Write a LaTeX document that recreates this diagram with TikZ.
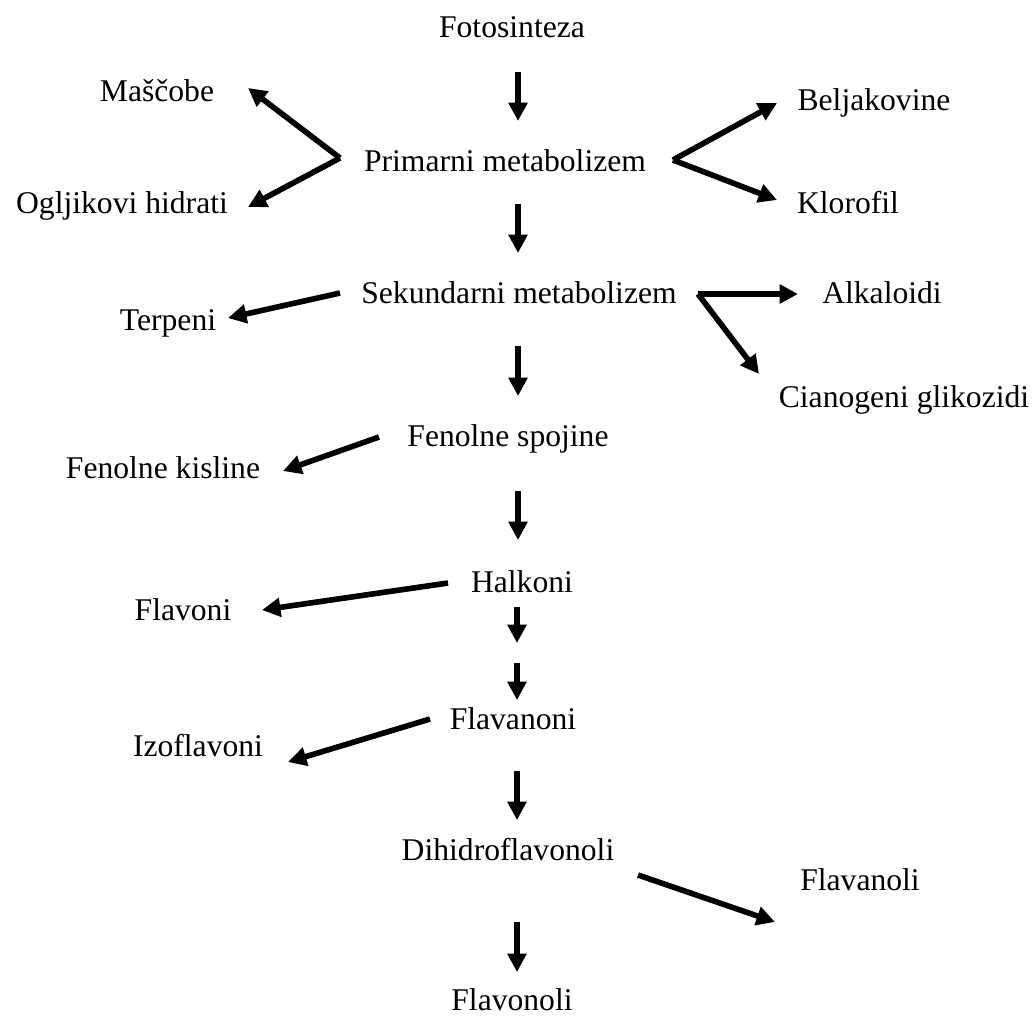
\documentclass[tikz,border=0pt]{standalone}
\usepackage{fontspec}
\setmainfont{Liberation Serif}
\usetikzlibrary{arrows.meta}
\tikzset{
    metnode/.style = {anchor=base, inner sep=0pt, font=\fontsize{18}{21}\selectfont, text=black},
    edgek/.style = {-{Triangle[length=10.5pt,width=10.5pt]}, line width=3.2pt, black},
}

\begin{document}
\begin{tikzpicture}[x=0.02cm,y=-0.02cm]
%
\node[metnode] at (512,37) (fot) {Fotosinteza};
\node[metnode] at (157,101) (masc) {Maščobe};
\node[metnode] at (505,171) (prim) {Primarni metabolizem};
\node[metnode] at (122,213) (oglj) {Ogljikovi hidrati};
\node[metnode] at (874,110) (belj) {Beljakovine};
\node[metnode] at (848,213) (klor) {Klorofil};
\node[metnode] at (519,303) (sek) {Sekundarni metabolizem};
\node[metnode] at (168,330) (terp) {Terpeni};
\node[metnode] at (882,303) (alk) {Alkaloidi};
\node[metnode] at (904,407) (cian) {Cianogeni glikozidi};
\node[metnode] at (508,446) (fen) {Fenolne spojine};
\node[metnode] at (163,478) (fkis) {Fenolne kisline};
\node[metnode] at (522,592) (halk) {Halkoni};
\node[metnode] at (183,620) (flavo) {Flavoni};
\node[metnode] at (513,729) (flavan) {Flavanoni};
\node[metnode] at (198,756) (izo) {Izoflavoni};
\node[metnode] at (508,860) (dih) {Dihidroflavonoli};
\node[metnode] at (860,890) (flavl) {Flavanoli};
\node[metnode] at (512,1010) (flavon) {Flavonoli};
%
\coordinate (vl) at (340,158);
\coordinate (vr) at (673,160);
\coordinate (vs) at (698,294);
\coordinate (halk-m) at (517,653);
%
\draw[edgek] ([yshift=-35*0.02cm]fot.base -| 518,0) -- ([yshift=50*0.02cm]prim.base -| 518,0);
\draw[edgek] ([yshift=-33*0.02cm]prim.base -| 518,0) -- ([yshift=50*0.02cm]sek.base -| 518,0);
\draw[edgek] ([yshift=-43*0.02cm]sek.base -| 518,0) -- ([yshift=50*0.02cm]fen.base -| 518,0);
\draw[edgek] ([yshift=-45*0.02cm]fen.base -| 518,0) -- ([yshift=52*0.02cm]halk.base -| 518,0);
\draw[edgek] ([yshift=-15*0.02cm]halk.base -| 517,0) -- ([yshift=10*0.02cm]halk-m);
\draw[edgek] ([yshift=-10*0.02cm]halk-m) -- ([yshift=29*0.02cm]flavan.base -| 517,0);
\draw[edgek] ([yshift=-42*0.02cm]flavan.base -| 517,0) -- ([yshift=40*0.02cm]dih.base -| 517,0);
\draw[edgek] ([yshift=-62*0.02cm]dih.base -| 517,0) -- ([yshift=38*0.02cm]flavon.base -| 517,0);
%
\draw[edgek] (vl) -- (248,88);
\draw[edgek] (vl) -- (248,207);
\draw[edgek] (vr) -- (777,103);
\draw[edgek] (vr) -- (777,200);
\draw[edgek] (340,293) -- (228,318);
\draw[edgek] (vs) -- (798,294);
\draw[edgek] (vs) -- (759,374);
\draw[edgek] (379,437) -- (283,471);
\draw[edgek] (448,583) -- (262,610);
\draw[edgek] (430,719) -- (288,762);
\draw[edgek] (638,875) -- (775,922);

\path[use as bounding box] (0,0) rectangle (1035,1032);

\end{tikzpicture}
\end{document}
